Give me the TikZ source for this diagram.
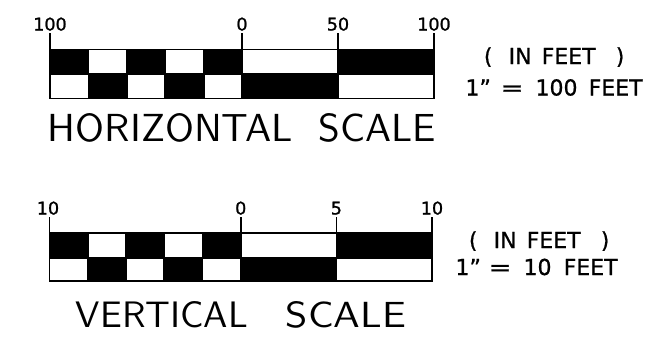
\documentclass[tikz,border=0pt]{standalone}
\usepackage{fontspec}
\setmainfont{DejaVu Sans}
\newfontfamily\labelfont{DejaVu Sans}[FakeBold=1.2]
\newfontfamily\notefont{DejaVu Sans}[FakeBold=0.8]
\newfontfamily\titlefont{Latin Modern Sans}
\begin{document}
\begin{tikzpicture}[x=1pt,y=-1pt,line width=1.8pt,
  tick/.style={line width=1.8pt},
  numlabel/.style={anchor=base,inner sep=0pt,font=\labelfont\fontsize{17.5}{17.5}\selectfont},
  notelabel/.style={anchor=base west,inner sep=0pt,font=\notefont\fontsize{22}{22}\selectfont},
  titlelabel/.style={anchor=south west,inner sep=0pt}]
\useasboundingbox (0,0) rectangle (654,338);
% ---------- horizontal scale ----------
\fill (50,49.5) rectangle (88.4,74) (126.8,49.5) rectangle (165.2,74)
      (203.6,49.5) rectangle (242,74) (338,49.5) rectangle (434,74);
\fill (88.4,74) rectangle (126.8,98.5) (165.2,74) rectangle (203.6,98.5)
      (242,74) rectangle (338,98.5);
\draw (50,49.5) rectangle (434,98.5);
\draw (50,74) -- (434,74);
\foreach \x in {88.4,126.8,165.2,203.6,242,338} \draw (\x,49.5) -- (\x,98.5);
\node[numlabel] (h100a) at (50,30.5) {100};
\node[numlabel] (h0) at (242,30.5) {0};
\node[numlabel] (h50) at (338,30.5) {50};
\node[numlabel] (h100b) at (434,30.5) {100};
\foreach \x in {50,242,338,434}
  \draw[tick] (\x,33) -- (\x,49.5);
\node[notelabel] (hin) at (483,64) {(\hspace{16.2pt}IN\hspace{10.1pt}FEET\hspace{20.2pt})};
\node[notelabel] (hratio) at (464.6,95.5) {1”\hspace{9.7pt}\scalebox{1.25}[1]{=}\hspace{11.9pt}100\hspace{11.2pt}FEET};
\node[titlelabel] (htitle) at (47,143) {\titlefont\resizebox{245pt}{28pt}{HORIZONTAL}\hspace{26pt}\resizebox{117pt}{28pt}{SCALE}};
% ---------- vertical scale ----------
\fill (49.5,233) rectangle (87.75,258) (126,233) rectangle (164.25,258)
      (202.5,233) rectangle (240.75,258) (336.4,233) rectangle (432,258);
\fill (87.75,258) rectangle (126,281) (164.25,258) rectangle (202.5,281)
      (240.75,258) rectangle (336.4,281);
\draw (49.5,233) rectangle (432,281);
\draw (49.5,258) -- (432,258);
\foreach \x in {87.75,126,164.25,202.5,240.75,336.4} \draw (\x,233) -- (\x,281);
\node[numlabel] (v10a) at (48,214.5) {10};
\node[numlabel] (v0) at (240.75,214.5) {0};
\node[numlabel] (v5) at (336.4,214.5) {5};
\node[numlabel] (v10b) at (432,214.5) {10};
\foreach \x in {49.5,240.75,336.4,432}
  \draw[tick] (\x,217) -- (\x,233);
\node[notelabel] (vin) at (468,248) {(\hspace{16.2pt}IN\hspace{10.1pt}FEET\hspace{20.2pt})};
\node[notelabel] (vratio) at (454.6,275) {1”\hspace{7.7pt}\scalebox{1.25}[1]{=}\hspace{11.9pt}10\hspace{12.2pt}FEET};
\node[titlelabel] (vtitle) at (75,329) {\titlefont\resizebox{172pt}{26pt}{VERTICAL}\hspace{38pt}\resizebox{120pt}{26pt}{SCALE}};
\end{tikzpicture}
\end{document}
